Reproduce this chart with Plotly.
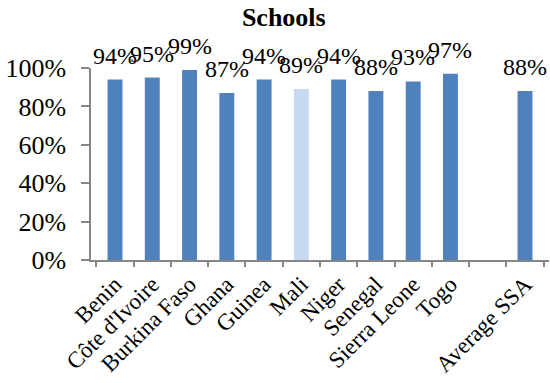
import plotly.graph_objects as go

categories = ["Benin", "Côte d'Ivoire", "Burkina Faso", "Ghana", "Guinea", "Mali",
              "Niger", "Senegal", "Sierra Leone", "Togo", " ", "Average SSA"]
values = [0.94, 0.95, 0.99, 0.87, 0.94, 0.89, 0.94, 0.88, 0.93, 0.97, None, 0.88]
labels = ["94%", "95%", "99%", "87%", "94%", "89%", "94%", "88%", "93%", "97%", "", "88%"]
highlight = "Mali"

colors = ["#C6D9F1" if c == highlight else "#4F81BD" for c in categories]

font_family = "Liberation Serif"

fig = go.Figure(go.Bar(
    x=categories, y=values,
    marker=dict(color=colors, line=dict(width=0)),
    width=0.4, cliponaxis=False,
))

for c, v, t in zip(categories, values, labels):
    if v is None:
        continue
    fig.add_annotation(x=c, y=v, text=t, showarrow=False, yanchor="bottom",
                       yshift=9, font=dict(family=font_family, size=24, color="black"))

fig.update_layout(
    width=550, height=383,
    margin=dict(l=91, r=1, t=68, b=123),
    paper_bgcolor="white", plot_bgcolor="white",
    showlegend=False,
    title=dict(text="<b>Schools</b>", x=0.516, xanchor="center", y=0.955, yanchor="middle",
               font=dict(family=font_family, size=26, color="black")),
    font=dict(family=font_family, color="black"),
)
fig.update_xaxes(
    type="category", tickangle=-45, tickfont=dict(family=font_family, size=23, color="black"),
    showline=True, linecolor="#868686", linewidth=1.5,
    ticks="outside", tickson="boundaries", ticklen=5, tickcolor="#868686", tickwidth=1.5,
    showgrid=False,
)
fig.update_yaxes(
    range=[0, 1], tickformat=".0%", dtick=0.2,
    tickfont=dict(family=font_family, size=26, color="black"),
    showline=True, linecolor="#868686", linewidth=1.5,
    ticks="outside", ticklen=8, tickcolor="#868686", tickwidth=1.5,
    ticklabelstandoff=10,
    showgrid=False, zeroline=False,
)

fig.write_html("out.html")
